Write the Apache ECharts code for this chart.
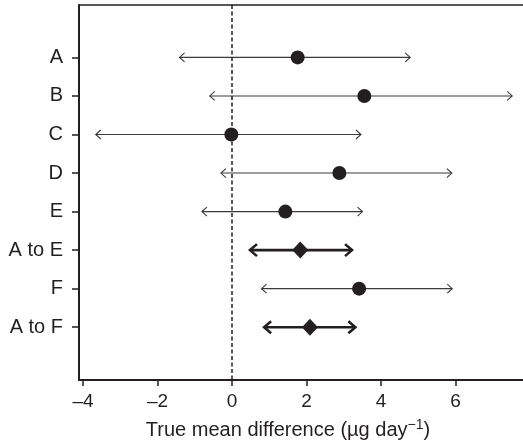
<!DOCTYPE html>
<html>
<head>
<meta charset="utf-8">
<title>Forest plot</title>
<script src="https://cdn.jsdelivr.net/npm/echarts@6.0.0/dist/echarts.min.js"></script>
</head>
<body style="margin:0">
<div id="main" style="width:523px;height:445px;"></div>
<script type="text/javascript">
// rows from top to bottom
var categories = ['A', 'B', 'C', 'D', 'E', 'A to E', 'F', 'A to F'];
var means = [1.76, 3.55, -0.02, 2.88, 1.43, 1.83, 3.41, 2.09];
var lower = [-1.41, -0.60, -3.66, -0.30, -0.81, 0.48, 0.79, 0.86];
var upper = [4.78, 7.52, 3.46, 5.90, 3.50, 3.22, 5.91, 3.31];
var pooled = [0, 0, 0, 0, 0, 1, 0, 1];
var xTicks = [-4, -2, 0, 2, 4, 6];

var ink = '#231f20';
var rowPos = categories.map(function (c, i) { return i + 1; });

var intervals = [], circles = [], diamonds = [];
for (var i = 0; i < categories.length; i++) {
    intervals.push([lower[i], upper[i], rowPos[i], pooled[i]]);
    if (pooled[i]) diamonds.push([means[i], rowPos[i]]);
    else circles.push([means[i], rowPos[i]]);
}

// line with open arrowheads at both ends
function renderInterval(params, api) {
    var y = api.value(2);
    var a = api.coord([api.value(0), y]);
    var b = api.coord([api.value(1), y]);
    var thick = api.value(3) == 1;
    var w = thick ? 2.6 : 1.1;
    var al = thick ? 7 : 5;
    var ah = thick ? 6 : 4.5;
    var style = { stroke: thick ? ink : '#3a3a3a', lineWidth: w, fill: null };
    return {
        type: 'group',
        children: [
            { type: 'line', shape: { x1: a[0], y1: a[1], x2: b[0], y2: b[1] }, style: style },
            { type: 'polyline', shape: { points: [[a[0] + al, a[1] - ah], [a[0], a[1]], [a[0] + al, a[1] + ah]] }, style: style },
            { type: 'polyline', shape: { points: [[b[0] - al, b[1] - ah], [b[0], b[1]], [b[0] - al, b[1] + ah]] }, style: style }
        ]
    };
}

var myChart = echarts.init(document.getElementById('main'));
myChart.setOption({
    animation: false,
    backgroundColor: '#fff',
    grid: { left: 79, right: 0, top: 5, bottom: 65 },
    xAxis: [{
        type: 'value',
        min: -4.11,
        max: 7.81,
        splitLine: { show: false },
        axisLine: { onZero: false, lineStyle: { color: ink, width: 2 } },
        axisTick: { customValues: xTicks, length: 6, lineStyle: { color: ink, width: 1.5 } },
        axisLabel: {
            customValues: xTicks,
            color: ink, fontSize: 19, fontFamily: 'Liberation Sans', margin: 12,
            formatter: function (v) { return String(v).replace('-', '\u2013'); }
        },
        name: 'True mean difference (\u00b5g day{sup|\u22121})',
        nameLocation: 'middle',
        nameGap: 38,
        nameTextStyle: {
            color: ink, fontSize: 20, fontFamily: 'Liberation Sans', padding: [0, 26, 0, 0],
            rich: { sup: { fontSize: 14, verticalAlign: 'top', padding: [0, 0, 10, 0], color: ink, fontFamily: 'Liberation Sans' } }
        }
    }, {
        // top frame line
        type: 'value',
        position: 'top',
        min: -4.11,
        max: 7.81,
        splitLine: { show: false },
        axisLine: { onZero: false, lineStyle: { color: ink, width: 1.7 } },
        axisTick: { show: false },
        axisLabel: { show: false }
    }],
    yAxis: {
        type: 'value',
        inverse: true,
        min: -0.36,
        max: 9.37,
        splitLine: { show: false },
        axisLine: { onZero: false, lineStyle: { color: ink, width: 2 } },
        axisTick: { customValues: rowPos, length: 7, lineStyle: { color: ink, width: 1.5 } },
        axisLabel: {
            customValues: rowPos,
            color: ink, fontSize: 20, fontFamily: 'Liberation Sans', margin: 16,
            formatter: function (v) { return categories[Math.round(v) - 1] || ''; }
        }
    },
    series: [
        {
            type: 'custom',
            renderItem: renderInterval,
            data: intervals,
            silent: true,
            z: 2
        },
        {
            type: 'scatter',
            data: circles,
            symbol: 'circle',
            symbolSize: 14,
            itemStyle: { color: ink, opacity: 1 },
            z: 3,
            markLine: {
                silent: true,
                symbol: 'none',
                label: { show: false },
                lineStyle: { color: ink, type: [4, 2.5], width: 1.5 },
                data: [{ xAxis: 0 }]
            }
        },
        {
            type: 'scatter',
            data: diamonds,
            symbol: 'diamond',
            symbolSize: [16, 17],
            itemStyle: { color: ink, opacity: 1 },
            z: 3
        }
    ]
});
</script>
</body>
</html>
